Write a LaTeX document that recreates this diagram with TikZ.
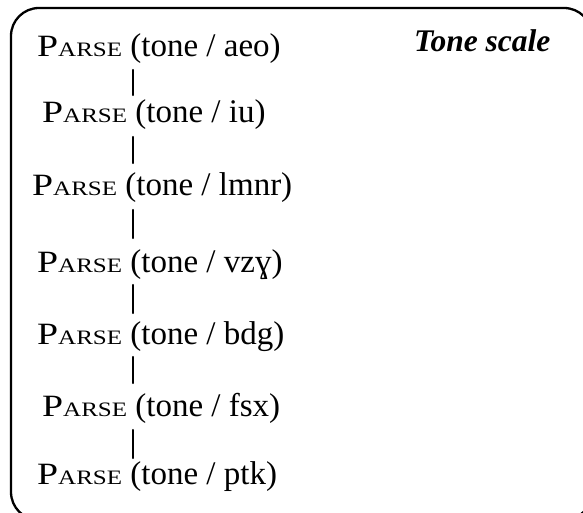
\documentclass[tikz,border=0pt]{standalone}
\usepackage{fontspec}
\setmainfont{Liberation Serif}
\newfontfamily\parsefont[FakeStretch=1.22]{Liberation Serif}
\usetikzlibrary{positioning}
\newcommand{\parse}{{\parsefont\fontsize{31}{36}\selectfont P\fontsize{20.5}{24}\selectfont ARSE}}

\begin{document}
\begin{tikzpicture}[
    x=1pt, y=-1pt, % pixel grid of the reference
    line cap=round
  ]

  % Styles
  \tikzset{
    rank/.style={anchor=base west, inner sep=0pt, font=\fontsize{33}{40}\selectfont},
    heading/.style={anchor=base west, inner sep=0pt, font=\fontsize{31.5}{36}\selectfont\bfseries\itshape},
    link/.style={line width=2.1pt}
  }

  \path[use as bounding box] (0,0) rectangle (583,513);

  % Frame, running off the right and lower edges
  \begin{scope}
    \clip (0,0) rectangle (583,513);
    \draw[line width=2.3pt, rounded corners=28pt] (11,8) rectangle (592,520);
  \end{scope}

  \node (title) [heading] at (414,52) {Tone scale};

  % Ranking, top to bottom
  \node (aeo)  [rank] at (37,57)  {\parse{} (tone / aeo)};
  \node (iu)   [rank] at (42,123) {\parse{} (tone / iu)};
  \node (lmnr) [rank] at (32,196) {\parse{} (tone / lmnr)};
  \node (vzg)  [rank] at (37,272) {\parse{} (tone / vzɣ)};
  \node (bdg)  [rank] at (37,344) {\parse{} (tone / bdg)};
  \node (fsx)  [rank] at (42,416) {\parse{} (tone / fsx)};
  \node (ptk)  [rank] at (37,484) {\parse{} (tone / ptk)};

  \coordinate (axis) at (133,0);

  % Domination lines
  \draw[link] ([yshift=-13pt]aeo.base -| axis)  -- ([yshift=28pt]iu.base -| axis);
  \draw[link] ([yshift=-14pt]iu.base -| axis)   -- ([yshift=33pt]lmnr.base -| axis);
  \draw[link] ([yshift=-14pt]lmnr.base -| axis) -- ([yshift=34pt]vzg.base -| axis);
  \draw[link] ([yshift=-13pt]vzg.base -| axis)  -- ([yshift=31pt]bdg.base -| axis);
  \draw[link] ([yshift=-13pt]bdg.base -| axis)  -- ([yshift=33pt]fsx.base -| axis);
  \draw[link] ([yshift=-14pt]fsx.base -| axis)  -- ([yshift=26pt]ptk.base -| axis);

\end{tikzpicture}
\end{document}
